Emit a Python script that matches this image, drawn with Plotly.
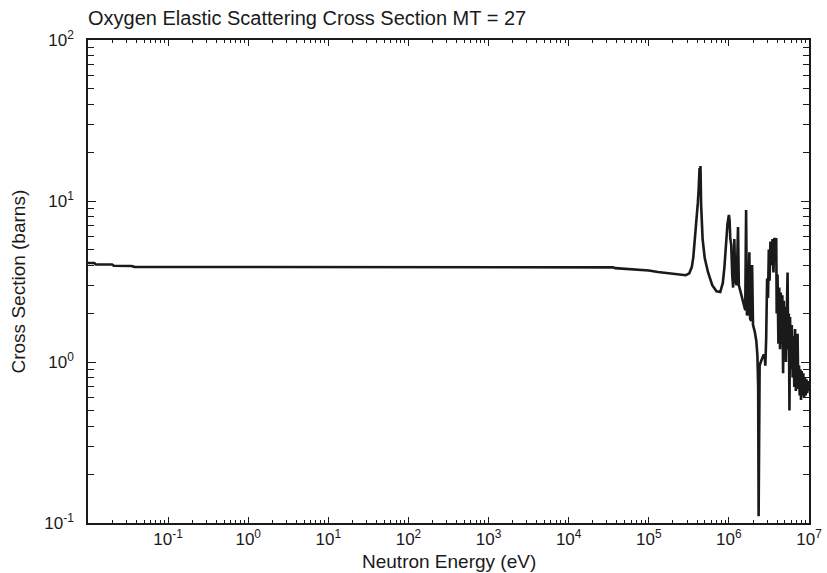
import plotly.graph_objects as go

# Neutron energy (eV) and elastic cross section (barns)
energy = [
    1e-2, 1.2e-2, 1.25e-2, 2.0e-2, 2.1e-2, 3.5e-2, 3.8e-2, 1e-1, 1e0, 1e1, 1e2, 1e3,
    2.4e3, 2.5e3, 1e4, 3.6e4, 3.8e4, 5e4, 6e4, 8e4, 1e5, 1.3e5, 1.6e5, 2e5, 2.5e5,
    2.9e5, 3.2e5, 3.45e5, 3.6e5, 3.8e5, 3.95e5, 4.1e5, 4.2e5, 4.3e5, 4.35e5, 4.42e5,
    4.5e5, 4.7e5, 5.0e5, 5.5e5, 6.2e5, 7.0e5, 7.8e5, 8.4e5, 8.8e5, 9.2e5, 9.6e5,
    1.0e6, 1.02e6, 1.04e6, 1.07e6, 1.10e6, 1.13e6, 1.17e6, 1.2e6, 1.25e6, 1.3e6,
    1.33e6, 1.4e6, 1.47e6, 1.55e6, 1.6e6, 1.64e6, 1.68e6, 1.75e6, 1.8e6, 1.84e6,
    1.9e6, 1.95e6, 2.0e6, 2.1e6, 2.2e6, 2.27e6, 2.32e6, 2.35e6, 2.38e6, 2.42e6,
    2.5e6, 2.6e6, 2.7e6, 2.8e6, 2.85e6, 2.92e6, 3.0e6, 3.08e6, 3.15e6, 3.22e6,
    3.3e6, 3.4e6, 3.5e6, 3.6e6, 3.7e6, 3.8e6, 3.9e6, 3.95e6, 4.05e6, 4.15e6,
    4.25e6, 4.35e6, 4.45e6, 4.55e6, 4.65e6, 4.75e6, 4.85e6, 4.95e6, 5.05e6,
    5.15e6, 5.3e6, 5.4e6, 5.5e6, 5.6e6, 5.7e6, 5.8e6, 5.95e6, 6.1e6, 6.25e6,
    6.4e6, 6.55e6, 6.7e6, 6.85e6, 7.0e6, 7.2e6, 7.35e6, 7.5e6, 7.65e6, 7.8e6,
    7.95e6, 8.1e6, 8.3e6, 8.5e6, 8.7e6, 8.9e6, 9.1e6, 9.3e6, 9.5e6, 9.7e6,
    9.85e6, 1e7,
]
cross_section = [
    4.12, 4.12, 4.04, 4.03, 3.96, 3.95, 3.90, 3.90, 3.90, 3.90, 3.90, 3.90,
    3.90, 3.87, 3.87, 3.87, 3.83, 3.80, 3.78, 3.74, 3.70, 3.62, 3.58, 3.52, 3.47,
    3.46, 3.55, 3.9, 4.5, 6.0, 7.5, 9.8, 12.0, 16.0, 12.5, 16.5,
    9.5, 5.8, 4.4, 3.6, 3.0, 2.75, 2.72, 3.1, 3.9, 5.5, 7.2,
    8.2, 7.6, 5.9, 5.3, 3.5, 2.9, 5.8, 3.2, 3.0, 6.9,
    3.0, 2.7, 2.4, 2.2, 2.1, 8.8, 1.95, 2.0, 4.8, 1.85,
    1.8, 4.0, 1.7, 1.55, 1.35, 1.1, 0.7, 0.11, 0.5, 0.95,
    1.0, 1.05, 1.1, 1.1, 0.95, 1.4, 3.3, 2.5, 5.0, 3.2,
    5.6, 4.0, 5.8, 3.6, 5.9, 4.2, 5.9, 2.0, 3.5, 1.3,
    2.9, 1.2, 2.7, 1.3, 2.6, 0.85, 2.4, 1.1, 2.2,
    1.0, 2.5, 3.6, 1.2, 2.0, 0.5, 1.9, 0.9, 1.7, 0.8,
    1.45, 0.7, 1.6, 0.66, 1.0, 1.5, 0.68, 0.95, 0.62, 0.9,
    0.58, 0.88, 0.62, 0.85, 0.6, 0.8, 0.62, 0.78, 0.64, 0.76,
    0.66, 0.72,
]

x_tick_vals = [1e-1, 1e0, 1e1, 1e2, 1e3, 1e4, 1e5, 1e6, 1e7]
x_tick_text = ["10<sup>-1</sup>", "10<sup>0</sup>", "10<sup>1</sup>", "10<sup>2</sup>",
               "10<sup>3</sup>", "10<sup>4</sup>", "10<sup>5</sup>", "10<sup>6</sup>",
               "10<sup>7</sup>"]
y_tick_vals = [1e-1, 1e0, 1e1, 1e2]
y_tick_text = ["10<sup>-1</sup>", "10<sup>0</sup>", "10<sup>1</sup>", "10<sup>2</sup>"]

x_minor = [m * 10 ** e for e in range(-2, 7) for m in range(2, 10)]
y_minor = [m * 10 ** e for e in range(-1, 2) for m in range(2, 10)]

FONT = "Liberation Sans, Arial, sans-serif"
INK = "#1a1a1a"

W, H = 827, 573
ML, MR, MT, MB = 88, 18, 40, 50
PW, PH = W - ML - MR, H - MT - MB

fig = go.Figure()
fig.add_trace(go.Scatter(
    x=energy, y=cross_section, mode="lines",
    line=dict(color=INK, width=2.6), showlegend=False,
))

fig.update_layout(
    width=W, height=H,
    margin=dict(l=ML, r=MR, t=MT, b=MB),
    paper_bgcolor="white", plot_bgcolor="white",
    font=dict(family=FONT, size=17, color=INK),
    title=dict(text="Oxygen Elastic Scattering Cross Section MT = 27",
               x=0, xref="paper", xanchor="left",
               y=1 - 18 / H, yref="container", yanchor="middle",
               font=dict(family=FONT, size=20, color=INK)),
    annotations=[
        dict(text="Neutron Energy (eV)", xref="paper", yref="paper",
             x=0.5, y=-(561 - (H - MB)) / PH, xanchor="center", yanchor="middle",
             showarrow=False, font=dict(family=FONT, size=19, color=INK)),
        dict(text="Cross Section (barns)", xref="paper", yref="paper",
             x=-(ML - 18) / PW, y=0.5, xanchor="center", yanchor="middle",
             textangle=-90, showarrow=False,
             font=dict(family=FONT, size=19, color=INK)),
    ],
)

fig.update_xaxes(
    type="log", range=[-2, 7],
    tickmode="array", tickvals=x_tick_vals, ticktext=x_tick_text,
    ticks="inside", ticklen=6, tickwidth=1.3, tickcolor=INK,
    minor=dict(tickmode="array", tickvals=x_minor, ticks="inside",
               ticklen=3, tickwidth=1.2, tickcolor=INK),
    showgrid=False, zeroline=False,
    showline=True, linecolor=INK, linewidth=1.5, mirror="ticks",
    tickfont=dict(family=FONT, size=17, color=INK),
    ticklabelstandoff=0,
    automargin=False,
)
fig.update_yaxes(
    type="log", range=[-1, 2],
    tickmode="array", tickvals=y_tick_vals, ticktext=y_tick_text,
    ticks="inside", ticklen=8, tickwidth=1.3, tickcolor=INK,
    minor=dict(tickmode="array", tickvals=y_minor, ticks="inside",
               ticklen=6, tickwidth=1.2, tickcolor=INK),
    showgrid=False, zeroline=False,
    showline=True, linecolor=INK, linewidth=1.5, mirror="ticks",
    tickfont=dict(family=FONT, size=17, color=INK),
    ticklabelstandoff=9,
    automargin=False,
)

fig.write_html("out.html")
